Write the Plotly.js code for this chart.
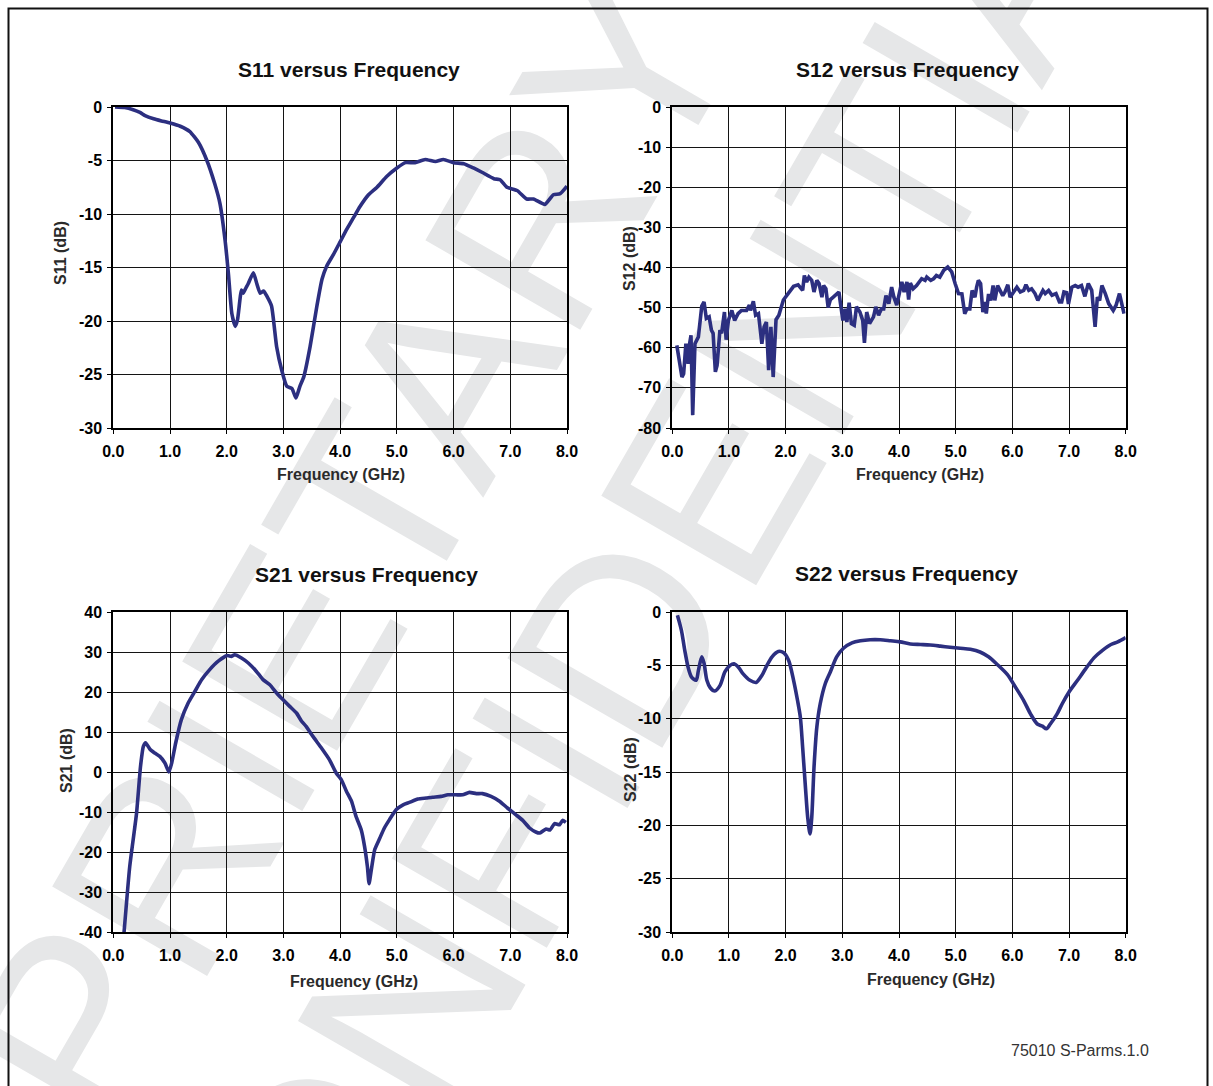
<!DOCTYPE html>
<html>
<head>
<meta charset="utf-8">
<script src="https://cdn.plot.ly/plotly-3.0.1.min.js"></script>
<style>
  html, body { margin: 0; padding: 0; background: #ffffff; width: 1213px; height: 1086px; overflow: hidden; }
  #wrap { position: relative; width: 1213px; height: 1086px; overflow: hidden; }
  .wm { position: absolute; width: 0; height: 0; z-index: 0; }
  .wm div { position: absolute; left: 0; top: 0; transform: translate(-50%, -50%) rotate(-60deg);
            white-space: nowrap; font-family: 'Liberation Sans', Arial, sans-serif; font-weight: normal;
            font-size: 260px; line-height: 260px; color: #e6e7e8; }
  #chart { position: absolute; left: 0; top: 0; width: 1213px; height: 1086px; z-index: 1; }
</style>
</head>
<body>
<div id="wrap">
  <div class="wm" id="wm1"><div>PROPRIETARY</div></div>
  <div class="wm" id="wm2"><div>CONFIDENTIAL</div></div>
  <div id="chart"></div>
</div>
<script>
// ---- data ----
const freq_ticks = [0, 1, 2, 3, 4, 5, 6, 7, 8];
const freq_tick_labels = ['0.0', '1.0', '2.0', '3.0', '4.0', '5.0', '6.0', '7.0', '8.0'];
const s11_ticks = [0, -5, -10, -15, -20, -25, -30];
const s12_ticks = [0, -10, -20, -30, -40, -50, -60, -70, -80];
const s21_ticks = [40, 30, 20, 10, 0, -10, -20, -30, -40];
const s22_ticks = [0, -5, -10, -15, -20, -25, -30];

const s11_freq = [0.03,0.2,0.35,0.47,0.56,0.71,0.85,1.0,1.18,1.35,1.5,1.65,1.79,1.88,1.97,2.03,2.09,2.15,2.19,2.26,2.29,2.33,2.38,2.47,2.53,2.59,2.65,2.71,2.79,2.88,2.97,3.06,3.15,3.22,3.29,3.36,3.47,3.59,3.68,3.76,3.88,4.0,4.12,4.24,4.35,4.5,4.65,4.82,5.0,5.15,5.32,5.5,5.68,5.82,6.0,6.18,6.35,6.5,6.71,6.82,6.94,7.12,7.29,7.41,7.61,7.76,7.88,8.0];
const s11_db = [0,-0.05,-0.25,-0.5,-0.8,-1.1,-1.3,-1.5,-1.8,-2.3,-3.3,-5.0,-7.2,-9.0,-12.4,-15.6,-19.3,-20.5,-19.9,-17.1,-17.4,-17.0,-16.5,-15.5,-16.5,-17.4,-17.2,-17.7,-18.6,-22.4,-24.6,-26.1,-26.3,-27.2,-26.1,-25.2,-22.4,-18.6,-16.1,-14.9,-13.8,-12.6,-11.4,-10.3,-9.3,-8.2,-7.5,-6.5,-5.7,-5.2,-5.2,-4.9,-5.1,-4.9,-5.2,-5.3,-5.7,-6.1,-6.7,-6.8,-7.5,-7.8,-8.6,-8.6,-9.1,-8.2,-8.1,-7.4];

const s12_freq = [0.08,0.12,0.17,0.2,0.24,0.28,0.3,0.33,0.36,0.4,0.46,0.52,0.56,0.6,0.65,0.69,0.72,0.76,0.79,0.84,0.87,0.92,0.95,0.99,1.05,1.1,1.16,1.22,1.31,1.36,1.38,1.43,1.47,1.52,1.55,1.58,1.62,1.66,1.7,1.74,1.78,1.83,1.88,1.96,2.05,2.14,2.22,2.3,2.33,2.37,2.41,2.46,2.5,2.55,2.59,2.64,2.67,2.71,2.75,2.79,2.84,2.9,2.94,2.96,3.01,3.05,3.08,3.12,3.16,3.21,3.25,3.31,3.36,3.39,3.43,3.48,3.55,3.59,3.64,3.69,3.73,3.77,3.82,3.87,3.91,3.96,4.0,4.05,4.09,4.14,4.17,4.2,4.25,4.31,4.4,4.46,4.49,4.56,4.61,4.66,4.72,4.79,4.86,4.93,4.99,5.05,5.11,5.16,5.2,5.25,5.29,5.34,5.37,5.4,5.44,5.48,5.52,5.54,5.58,5.62,5.66,5.69,5.74,5.79,5.83,5.87,5.92,5.96,6.02,6.08,6.14,6.2,6.24,6.29,6.34,6.4,6.45,6.49,6.54,6.58,6.64,6.7,6.77,6.83,6.87,6.91,6.96,6.99,7.05,7.11,7.16,7.22,7.28,7.34,7.4,7.46,7.5,7.54,7.58,7.64,7.7,7.78,7.83,7.89,7.97];
const s12_db = [-59.4,-63.1,-67.3,-66.5,-59,-64,-59.4,-56.9,-76.8,-59,-57.3,-49.6,-48.6,-52.7,-52.3,-55.6,-56.4,-66,-64.4,-55.6,-56.4,-51.1,-58,-53.2,-50.7,-53.2,-51.5,-50.7,-50.7,-49.4,-50.7,-48.4,-51.9,-51.5,-54.8,-59,-54.8,-53.6,-65.6,-54.8,-67.3,-53,-51.9,-48.1,-46.4,-44.7,-44.3,-45.7,-42,-43.6,-42.4,-43.2,-46.1,-43.2,-44,-47.4,-44.5,-45.3,-50,-48,-47.4,-46.6,-46.1,-48.2,-53.2,-50.3,-53.6,-48.8,-54,-54.4,-49.8,-51.1,-53.2,-58.8,-51.1,-54,-52.3,-49.8,-51.9,-50.3,-50.3,-47,-49,-44.9,-47.4,-49.4,-46.5,-43.6,-46.1,-43.6,-48,-43.9,-45.3,-44.5,-42.8,-43.2,-42.4,-43.2,-42.8,-42,-42.4,-40.7,-39.9,-41.1,-44,-46.5,-46.6,-51.5,-50.3,-50.3,-45.7,-47.4,-44.9,-43.2,-44,-51.1,-48.6,-51.5,-46.6,-48.2,-44.5,-48.2,-44.5,-46.1,-47,-46.1,-44.3,-47.4,-46.1,-44.9,-46.1,-45.7,-44.3,-45.7,-45.3,-46.5,-48.2,-46.9,-45.7,-46.5,-45.7,-46.9,-46.5,-48.6,-48.6,-46.1,-46.3,-49.1,-44.9,-44.5,-44.9,-44.5,-47.2,-44,-45.7,-54.8,-47.4,-48.2,-44.5,-46.5,-49,-50.7,-49.4,-46.5,-51.5];

const s21_freq = [0.15,0.19,0.29,0.41,0.48,0.53,0.57,0.65,0.73,0.82,0.91,0.98,1.03,1.1,1.2,1.32,1.44,1.56,1.7,1.85,2.01,2.08,2.14,2.26,2.38,2.52,2.64,2.76,2.88,2.99,3.11,3.23,3.32,3.4,3.52,3.67,3.81,3.93,4.02,4.11,4.2,4.28,4.37,4.43,4.48,4.51,4.55,4.61,4.7,4.78,4.87,4.99,5.11,5.22,5.37,5.52,5.63,5.78,5.9,6.04,6.16,6.28,6.4,6.51,6.66,6.81,6.95,7.1,7.22,7.34,7.45,7.52,7.63,7.7,7.78,7.87,7.92,7.98];
const s21_db = [-47,-40,-23.6,-10.3,1.4,6.4,7.3,5.6,4.75,3.9,2.25,0,2.25,7.25,13.1,17.25,20.2,23.1,25.6,27.7,29.1,28.9,29.3,28.5,27.25,25.2,23.1,21.8,19.75,18.1,16.4,14.75,12.7,11.4,8.9,6,3.1,-0.25,-1.9,-4.8,-7.3,-11.1,-14.4,-18.6,-23.6,-27.9,-24.4,-19.4,-16.5,-14,-11.9,-9.4,-8.2,-7.6,-6.75,-6.5,-6.3,-6.1,-5.7,-5.7,-5.7,-5.1,-5.4,-5.4,-6.1,-7.3,-9,-10.7,-12.1,-14,-15,-15.25,-14.25,-14.5,-12.9,-13.2,-12.1,-12.6];

const s22_freq = [0.09,0.16,0.22,0.28,0.34,0.42,0.46,0.52,0.56,0.61,0.67,0.75,0.84,0.93,1.02,1.09,1.17,1.25,1.37,1.48,1.58,1.67,1.76,1.87,1.96,2.05,2.14,2.21,2.26,2.3,2.35,2.39,2.43,2.46,2.5,2.55,2.61,2.7,2.79,2.9,3.02,3.17,3.32,3.49,3.67,3.85,4.02,4.2,4.38,4.55,4.73,4.9,5.08,5.26,5.43,5.58,5.73,5.91,6.05,6.2,6.32,6.44,6.53,6.6,6.67,6.79,6.88,7.0,7.15,7.29,7.44,7.59,7.74,7.86,8.0];
const s22_db = [-0.3,-1.7,-3.6,-5.2,-6.1,-6.4,-5.5,-4.2,-4.8,-6.4,-7.1,-7.4,-6.9,-5.6,-5.0,-4.85,-5.2,-5.8,-6.4,-6.6,-5.95,-5.0,-4.2,-3.7,-3.8,-4.5,-6.4,-8.3,-9.9,-12.7,-16.5,-19.3,-20.8,-19.3,-14.6,-10.8,-8.6,-6.7,-5.6,-4.2,-3.4,-2.9,-2.7,-2.6,-2.6,-2.7,-2.8,-3.0,-3.05,-3.1,-3.2,-3.3,-3.4,-3.5,-3.75,-4.2,-4.9,-5.85,-7.0,-8.3,-9.55,-10.5,-10.7,-10.95,-10.5,-9.55,-8.6,-7.5,-6.4,-5.35,-4.3,-3.6,-3.05,-2.8,-2.4];

const chart_titles = ['S11 versus Frequency', 'S12 versus Frequency', 'S21 versus Frequency', 'S22 versus Frequency'];
const y_titles = ['S11 (dB)', 'S12 (dB)', 'S21 (dB)', 'S22 (dB)'];
const x_title = 'Frequency (GHz)';
const footer_text = '75010 S-Parms.1.0';

// ---- watermark placement (background, behind the transparent plot) ----
(function () {
  const c1 = [210, 791];
  const c2 = [646, 596];
  const a = document.getElementById('wm1'), b = document.getElementById('wm2');
  a.style.left = c1[0] + 'px'; a.style.top = c1[1] + 'px';
  b.style.left = c2[0] + 'px'; b.style.top = c2[1] + 'px';
})();

// ---- drawing ----
const W = 1213, H = 1086;
const px = v => v / W;
const py = v => 1 - v / H;
const LINE = '#2c2f80';
const FONT = "'Liberation Sans', Arial, Helvetica, sans-serif";

function trace(x, y, xa, ya, shape, smooth) {
  const t = { x: x, y: y, xaxis: xa, yaxis: ya, type: 'scatter', mode: 'lines',
              line: { color: LINE, width: 3.6, shape: shape }, hoverinfo: 'skip', showlegend: false };
  if (shape === 'spline') t.line.smoothing = smooth;
  return t;
}

const data = [
  trace(s11_freq, s11_db, 'x', 'y', 'spline', 0.5),
  trace(s12_freq, s12_db, 'x2', 'y2', 'linear'),
  trace(s21_freq, s21_db, 'x3', 'y3', 'spline', 0.5),
  trace(s22_freq, s22_db, 'x4', 'y4', 'spline', 0.8)
];

function xaxis(domain, anchor) {
  return { domain: domain, anchor: anchor, range: [0, 8], tickvals: freq_ticks, ticktext: freq_tick_labels,
    showgrid: true, gridcolor: '#141414', gridwidth: 1, zeroline: false,
    showline: true, linecolor: '#000', linewidth: 2, mirror: true,
    ticks: 'outside', ticklen: 4, tickwidth: 1, tickcolor: '#000', ticklabelstandoff: 4,
    tickfont: { family: FONT, size: 16, color: '#000', weight: 'bold' }, fixedrange: true };
}
function yaxis(domain, anchor, range, ticks) {
  return { domain: domain, anchor: anchor, range: range, tickvals: ticks, ticktext: ticks.map(String),
    showgrid: true, gridcolor: '#141414', gridwidth: 1, zeroline: false,
    showline: true, linecolor: '#000', linewidth: 2, mirror: true,
    ticks: 'outside', ticklen: 4, tickwidth: 1, tickcolor: '#000', ticklabelstandoff: 2,
    tickfont: { family: FONT, size: 16, color: '#000', weight: 'bold' }, fixedrange: true };
}

const dxL = [px(113.3), px(567)], dxR = [px(672.3), px(1125.7)];
const dyT = [py(428), py(107)], dyB = [py(932), py(612)];

function ann(text, x, y, size, opts) {
  return Object.assign({ text: text, x: px(x), y: py(y), xref: 'paper', yref: 'paper',
    xanchor: 'center', yanchor: 'middle', showarrow: false,
    font: { family: FONT, size: size, color: '#111', weight: 'bold' } }, opts || {});
}
const axFont = { family: FONT, size: 16, color: '#2a2a2a', weight: 'bold' };

const annotations = [
  ann(chart_titles[0], 348.5, 70, 21),
  ann(chart_titles[1], 907, 70, 21),
  ann(chart_titles[2], 366, 574, 21),
  ann(chart_titles[3], 906, 573, 21),
  ann(x_title, 341, 475, 16, { font: axFont }),
  ann(x_title, 919.5, 475, 16, { font: axFont }),
  ann(x_title, 353.5, 981, 16, { font: axFont }),
  ann(x_title, 930.5, 979, 16, { font: axFont }),
  ann(y_titles[0], 60, 253, 16, { textangle: -90, font: axFont }),
  ann(y_titles[1], 629, 259, 16, { textangle: -90, font: axFont }),
  ann(y_titles[2], 66, 761, 16, { textangle: -90, font: axFont }),
  ann(y_titles[3], 630, 770, 16, { textangle: -90, font: axFont }),
  ann(footer_text, 1080, 1050, 16, { font: { family: FONT, size: 16, color: '#333', weight: 'normal' } })
];

const layout = {
  width: W, height: H,
  margin: { l: 0, r: 0, t: 0, b: 0, pad: 0 },
  paper_bgcolor: 'rgba(0,0,0,0)', plot_bgcolor: 'rgba(0,0,0,0)',
  showlegend: false,
  xaxis: xaxis(dxL, 'y'), yaxis: yaxis(dyT, 'x', [-30, 0], s11_ticks),
  xaxis2: xaxis(dxR, 'y2'), yaxis2: yaxis(dyT, 'x2', [-80, 0], s12_ticks),
  xaxis3: xaxis(dxL, 'y3'), yaxis3: yaxis(dyB, 'x3', [-40, 40], s21_ticks),
  xaxis4: xaxis(dxR, 'y4'), yaxis4: yaxis(dyB, 'x4', [-30, 0], s22_ticks),
  annotations: annotations,
  shapes: [{ type: 'rect', xref: 'paper', yref: 'paper', x0: px(8.5), x1: px(1207.5), y0: -0.05, y1: py(8.5),
             line: { color: '#111', width: 2 }, fillcolor: 'rgba(0,0,0,0)', layer: 'above' }]
};

Plotly.newPlot('chart', data, layout, { displayModeBar: false, staticPlot: true });
</script>
</body>
</html>
